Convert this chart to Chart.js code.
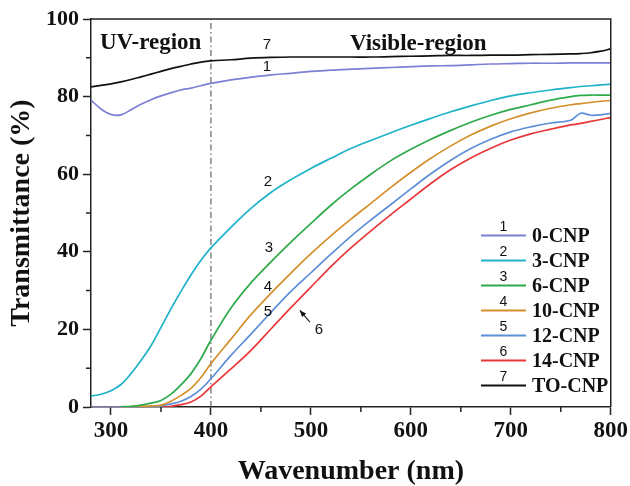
<!DOCTYPE html>
<html lang="en">
<head>
    <meta charset="UTF-8">
    <title>Transmittance of CNP films</title>
    <script src="https://cdn.jsdelivr.net/npm/chart.js"></script>
    <style>
        html, body { margin: 0; padding: 0; background: #fff; }
        #wrap { width: 630px; height: 486px; }
    </style>
</head>
<body>
    <div id="wrap"><canvas id="transChart" width="630" height="486"></canvas></div>

    <script>
        // wavelength grid (nm)
        var wavelength = [280, 290, 300, 310, 320, 330, 340, 350, 360, 370, 380, 390, 400,
            420, 440, 460, 480, 500, 520, 540, 560, 580, 600, 620, 640, 660, 680, 700,
            720, 740, 760, 770, 780, 790, 800];

        // transmittance (%)
        var cnp0 = [79.1, 76.8, 75.4, 75.3, 76.6, 78.0, 79.2, 80.2, 81.0, 81.7, 82.2, 82.8, 83.4,
            84.3, 85.0, 85.6, 86.0, 86.5, 86.8, 87.1, 87.3, 87.5, 87.7, 87.9, 88.0, 88.2, 88.4, 88.5,
            88.6, 88.6, 88.7, 88.7, 88.7, 88.7, 88.7];
        var cnp3 = [2.8, 3.3, 4.2, 5.8, 8.6, 12.0, 15.8, 20.5, 25.3, 29.8, 34.0, 37.8, 41.0,
            46.3, 51.2, 55.3, 58.6, 61.5, 64.1, 66.6, 68.7, 70.7, 72.6, 74.4, 76.1, 77.6, 79.0, 80.2,
            81.0, 81.7, 82.3, 82.6, 82.8, 83.0, 83.2];
        var cnp6 = [null, null, null, 0.1, 0.2, 0.5, 1.0, 1.7, 3.3, 5.7, 8.6, 12.5, 17.2,
            25.5, 32.0, 37.4, 42.5, 47.3, 52.0, 56.2, 60.0, 63.5, 66.4, 69.0, 71.3, 73.4, 75.2, 76.7,
            77.9, 79.1, 80.0, 80.3, 80.4, 80.4, 80.4];
        var cnp10 = [null, null, null, null, 0.1, 0.2, 0.3, 0.5, 1.5, 3.0, 4.8, 7.6, 11.2,
            17.5, 23.8, 29.3, 34.5, 39.5, 44.1, 48.4, 52.5, 56.6, 60.5, 64.1, 67.3, 70.1, 72.4, 74.3,
            75.8, 77.0, 77.9, 78.2, 78.5, 78.8, 79.0];
        var cnp12 = [0, 0, 0, 0, 0, 0, 0, 0.3, 0.8, 1.5, 2.7, 4.6, 7.3,
            13.3, 18.8, 24.4, 29.8, 34.6, 39.4, 44.0, 48.2, 52.2, 56.2, 60.1, 63.6, 66.6, 69.0, 70.9,
            72.2, 73.2, 73.9, 75.7, 75.2, 75.3, 75.7];
        var cnp14 = [0, 0, 0, 0, 0, 0, 0, 0, 0.2, 0.6, 1.3, 2.8, 5.2,
            9.8, 14.6, 20.1, 25.6, 30.9, 36.2, 41.0, 45.4, 49.6, 53.6, 57.6, 61.2, 64.2, 66.7, 68.8,
            70.4, 71.6, 72.7, 73.1, 73.6, 74.1, 74.6];
        var toCnp = [82.5, 82.9, 83.3, 83.8, 84.4, 85.1, 85.8, 86.5, 87.2, 87.8, 88.4, 88.9, 89.2,
            89.5, 89.9, 90.1, 90.2, 90.2, 90.2, 90.2, 90.2, 90.3, 90.4, 90.5, 90.6, 90.6, 90.7, 90.7,
            90.8, 90.9, 91.0, 91.1, 91.3, 91.7, 92.3];

        var seriesNames = ['0-CNP', '3-CNP', '6-CNP', '10-CNP', '12-CNP', '14-CNP', 'TO-CNP'];
        var seriesNums = ['1', '2', '3', '4', '5', '6', '7'];
        var seriesColors = ['#7d7fd2', '#1fb2c8', '#2faa4b', '#d4902c', '#5d8fd9', '#e8383a', '#111111'];

        var xTicks = [300, 400, 500, 600, 700, 800];
        var xMinor = [350, 450, 550, 650, 750];
        var yTicks = [0, 20, 40, 60, 80, 100];
        var yMinor = [10, 30, 50, 70, 90];

        var serif = '"Liberation Serif", "Times New Roman", serif';
        var sans = '"Liberation Sans", Arial, sans-serif';

        function series(vals) {
            return wavelength.map(function (w, i) { return { x: w, y: vals[i] }; });
        }

        var allVals = [cnp0, cnp3, cnp6, cnp10, cnp12, cnp14, toCnp];
        var datasets = allVals.map(function (v, i) {
            return {
                label: seriesNames[i],
                data: series(v),
                borderColor: seriesColors[i],
                borderWidth: 1.7,
                pointRadius: 0,
                fill: false,
                tension: 0.35,
                spanGaps: false
            };
        });

        // minor ticks, frame, dash-dot line, text labels and legend
        var extras = {
            id: 'extras',
            beforeDatasetsDraw: function (chart) {
                var c = chart.ctx, x = chart.scales.x, y = chart.scales.y;
                var px = x.getPixelForValue(400);
                c.save();
                c.strokeStyle = '#444';
                c.lineWidth = 1;
                c.setLineDash([6, 3, 1.5, 3]);
                c.beginPath();
                c.moveTo(px, y.getPixelForValue(0));
                c.lineTo(px, y.getPixelForValue(100));
                c.stroke();
                c.restore();
            },
            afterDraw: function (chart) {
                var c = chart.ctx, x = chart.scales.x, y = chart.scales.y;
                var a = chart.chartArea;
                c.save();
                c.strokeStyle = '#222';
                c.lineWidth = 1.5;
                c.beginPath();
                c.moveTo(a.left, a.top);
                c.lineTo(a.right, a.top);
                c.lineTo(a.right, a.bottom);
                c.stroke();

                // minor ticks
                c.beginPath();
                xMinor.forEach(function (v) {
                    var p = x.getPixelForValue(v);
                    c.moveTo(p, a.bottom);
                    c.lineTo(p, a.bottom + 5);
                });
                yMinor.forEach(function (v) {
                    var p = y.getPixelForValue(v);
                    c.moveTo(a.left, p);
                    c.lineTo(a.left - 5, p);
                });
                c.stroke();

                // region labels
                c.fillStyle = '#111';
                c.font = 'bold 23px ' + serif;
                c.textAlign = 'left';
                c.textBaseline = 'alphabetic';
                c.fillText('UV-region', x.getPixelForValue(289), y.getPixelForValue(92.3));
                c.fillText('Visible-region', x.getPixelForValue(539), y.getPixelForValue(92));

                // curve numbers
                c.font = '15px ' + sans;
                c.textAlign = 'center';
                c.textBaseline = 'middle';
                var nums = [['7', 456, 93.3], ['1', 456, 87.6], ['2', 457, 58], ['3', 458, 40.9],
                    ['4', 457, 31], ['5', 457, 24.5], ['6', 508, 19.8]];
                nums.forEach(function (n) {
                    c.fillText(n[0], x.getPixelForValue(n[1]), y.getPixelForValue(n[2]));
                });

                // arrow to curve 6
                var tx = x.getPixelForValue(499), ty = y.getPixelForValue(21.9);
                var hx = x.getPixelForValue(489), hy = y.getPixelForValue(24.9);
                var ang = Math.atan2(hy - ty, hx - tx);
                c.lineWidth = 1.2;
                c.beginPath();
                c.moveTo(tx, ty);
                c.lineTo(hx, hy);
                c.stroke();
                c.beginPath();
                c.moveTo(hx, hy);
                c.lineTo(hx - 7 * Math.cos(ang - 0.4), hy - 7 * Math.sin(ang - 0.4));
                c.lineTo(hx - 7 * Math.cos(ang + 0.4), hy - 7 * Math.sin(ang + 0.4));
                c.closePath();
                c.fill();

                // legend
                var rowY = 235.5, step = 25;
                seriesNames.forEach(function (name, i) {
                    var ry = rowY + i * step;
                    c.strokeStyle = seriesColors[i];
                    c.lineWidth = 2.2;
                    c.beginPath();
                    c.moveTo(481, ry);
                    c.lineTo(526, ry);
                    c.stroke();
                    c.fillStyle = '#111';
                    c.font = '14px ' + sans;
                    c.textAlign = 'center';
                    c.textBaseline = 'middle';
                    c.fillText(seriesNums[i], 503.5, ry - 8);
                    c.font = 'bold 20px ' + serif;
                    c.textAlign = 'left';
                    c.fillText(name, 532, ry + 1);
                });
                c.restore();
            }
        };

        var ctx = document.getElementById('transChart').getContext('2d');
        var chart = new Chart(ctx, {
            type: 'line',
            data: { datasets: datasets },
            plugins: [extras],
            options: {
                responsive: false,
                animation: false,
                layout: { padding: { top: 19, right: 18, left: 0, bottom: 0 } },
                plugins: { legend: { display: false }, tooltip: { enabled: false } },
                scales: {
                    x: {
                        type: 'linear',
                        min: 280,
                        max: 800,
                        afterFit: function (s) { s.height = 79; },
                        afterBuildTicks: function (s) { s.ticks = xTicks.map(function (v) { return { value: v }; }); },
                        grid: { drawOnChartArea: false, tickLength: 8, color: '#222', tickWidth: 1.5 },
                        border: { color: '#222', width: 1.5 },
                        ticks: { color: '#111', padding: 2, font: { family: serif, size: 23, weight: 'bold' } },
                        title: {
                            display: true,
                            text: 'Wavenumber (nm)',
                            color: '#111',
                            padding: { top: 0, bottom: 0 },
                            font: { family: serif, size: 28, weight: 'bold', lineHeight: 1 }
                        }
                    },
                    y: {
                        min: 0,
                        max: 100,
                        afterFit: function (s) { s.width = 91; },
                        afterBuildTicks: function (s) { s.ticks = yTicks.map(function (v) { return { value: v }; }); },
                        grid: { drawOnChartArea: false, tickLength: 8, color: '#222', tickWidth: 1.5 },
                        border: { color: '#222', width: 1.5 },
                        ticks: { color: '#111', padding: 4, font: { family: serif, size: 22, weight: 'bold' } },
                        title: {
                            display: true,
                            text: 'Transmittance (%)',
                            color: '#111',
                            padding: { top: 8, bottom: 0 },
                            font: { family: serif, size: 28, weight: 'bold', lineHeight: 1 }
                        }
                    }
                }
            }
        });
    </script>
</body>
</html>
